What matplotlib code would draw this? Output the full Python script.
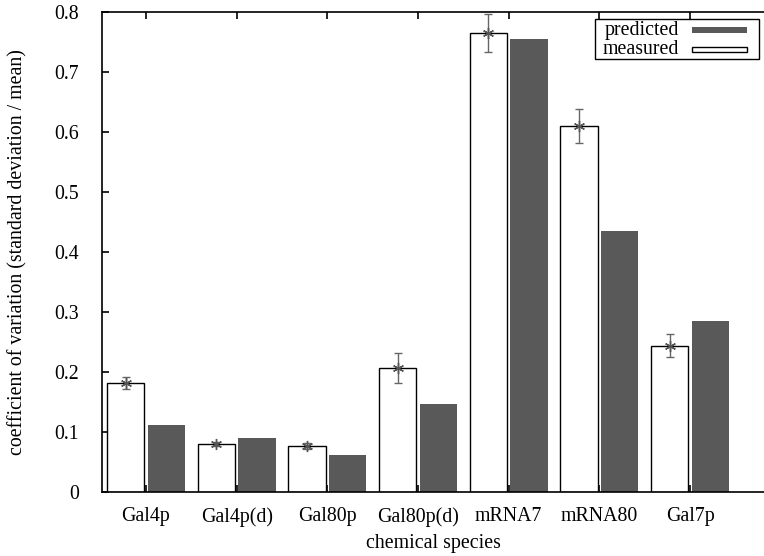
import matplotlib
matplotlib.use("Agg")
import matplotlib.pyplot as plt
import numpy as np
from matplotlib.patches import Rectangle

species = ["Gal4p", "Gal4p(d)", "Gal80p", "Gal80p(d)", "mRNA7", "mRNA80", "Gal7p"]
measured = [0.182, 0.080, 0.076, 0.206, 0.765, 0.610, 0.244]
measured_err = [0.010, 0.004, 0.005, 0.025, 0.031, 0.028, 0.019]
predicted = [0.112, 0.090, 0.062, 0.147, 0.755, 0.435, 0.285]

plt.rcParams['font.family'] = ['Liberation Serif', 'DejaVu Serif']
plt.rcParams['font.size'] = 14.3

fig = plt.figure(figsize=(7.64, 5.56), dpi=100)
ax = fig.add_axes([102/764, 64/556, 662/764, 480/556])

x = np.arange(len(species))
w = 0.41
off = 0.225
dark = '#595959'

ax.bar(x - off, measured, w, color='white', edgecolor='black', linewidth=1.0, zorder=2)
ax.bar(x + off, predicted, w, color=dark, edgecolor='none', zorder=2)
ax.errorbar(x - off, measured, yerr=measured_err, fmt='none', ecolor='#666666',
            elinewidth=1.0, capsize=3, capthick=1.0, zorder=3)
ax.plot(x - off, measured, linestyle='none', marker=(6, 2, 0), markersize=8,
        markeredgecolor='#555555', markeredgewidth=1.0, zorder=4)

ax.set_xlim(-0.485, (764 - 146) / 90.67)
ax.set_ylim(0, 0.8)
ax.set_xticks(x)
ax.set_xticklabels(species)
ax.set_yticks(np.arange(0, 0.81, 0.1))
ax.set_yticklabels(['0'] + ['%.1f' % v for v in np.arange(0.1, 0.81, 0.1)])
ax.tick_params(axis='x', direction='in', top=True, length=5, width=1.2, pad=11)
ax.tick_params(axis='y', direction='in', right=False, length=5, width=1.2, pad=16.5)
ax.spines['right'].set_visible(False)
for s in ['left', 'bottom', 'top']:
    ax.spines[s].set_linewidth(1.2)

ax.set_xlabel('chemical species', labelpad=5)
ax.set_ylabel('coefficient of variation (standard deviation / mean)', labelpad=19)

# key box (gnuplot style)
tr = ax.transAxes
def px(xp, yp):
    return ((xp - 102) / 662, (492 - yp) / 480)

x0, y0 = px(595, 59)
x1, y1 = px(759, 19)
ax.add_patch(Rectangle((x0, y0), x1 - x0, y1 - y0, transform=tr, facecolor='white',
                       edgecolor='black', linewidth=1.0, zorder=5))
tx, ty = px(679, 30)
ax.text(tx, ty, 'predicted', transform=tr, ha='right', va='center', zorder=6)
tx, ty = px(679, 49)
ax.text(tx, ty, 'measured', transform=tr, ha='right', va='center', zorder=6)
a0, b0 = px(692, 33)
a1, b1 = px(747, 27)
ax.add_patch(Rectangle((a0, b0), a1 - a0, b1 - b0, transform=tr, facecolor=dark,
                       edgecolor='none', zorder=6))
a0, b0 = px(692, 52)
a1, b1 = px(747, 47)
ax.add_patch(Rectangle((a0, b0), a1 - a0, b1 - b0, transform=tr, facecolor='white',
                       edgecolor='black', linewidth=1.0, zorder=6))

fig.savefig('out.png', dpi=100)
